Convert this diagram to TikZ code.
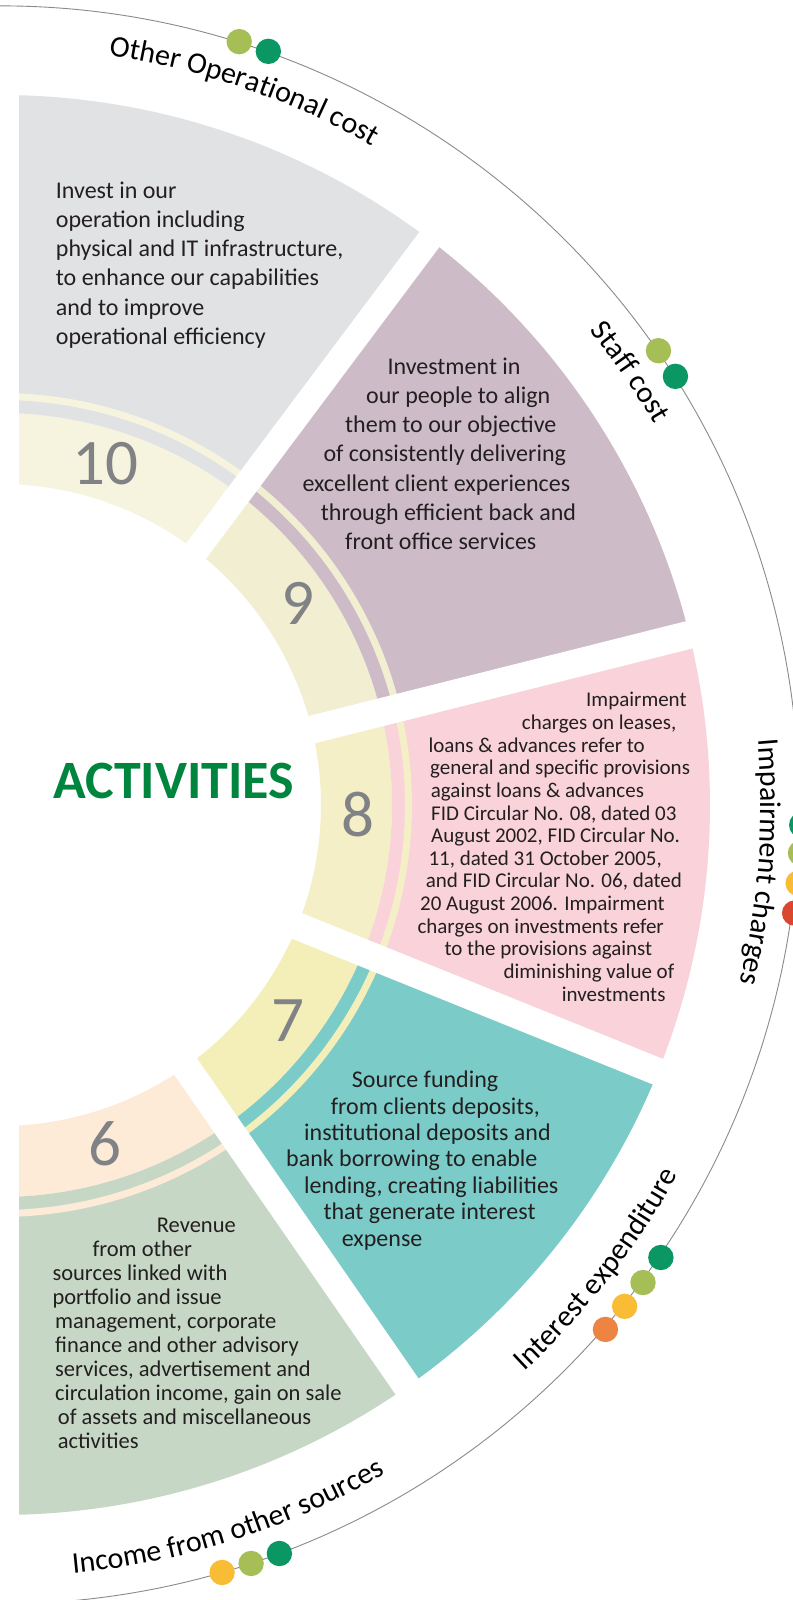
\documentclass[tikz,border=0pt]{standalone}
\usepackage{fontspec}
\setmainfont{Carlito}
\usetikzlibrary{decorations.text}
\definecolor{txt}{HTML}{231F20}
\definecolor{numgray}{HTML}{808285}
\definecolor{actgreen}{HTML}{00853F}
\definecolor{arcgray}{HTML}{8A8A8A}
\definecolor{cten}{HTML}{E1E2E4}\definecolor{bten}{HTML}{F6F4DF}
\definecolor{cnine}{HTML}{CDBCC8}\definecolor{bnine}{HTML}{F2EED2}
\definecolor{ceight}{HTML}{F9D2DA}\definecolor{beight}{HTML}{F4EFC6}
\definecolor{cseven}{HTML}{7BCCC8}\definecolor{bseven}{HTML}{F4EEB9}
\definecolor{csix}{HTML}{C6D8C5}\definecolor{bsix}{HTML}{FDEBD8}
\definecolor{dlgreen}{HTML}{A5BF56}
\definecolor{ddgreen}{HTML}{0A9763}
\definecolor{dyellow}{HTML}{F8BD35}
\definecolor{dorange}{HTML}{EE8441}
\definecolor{dred}{HTML}{D9472F}
\newcommand\annsec[5]{\fill[#1] (#2:#4) arc[start angle=#2, end angle=#3, radius=#4] -- (#3:#5) arc[start angle=#3, end angle=#2, radius=#5] -- cycle;}
\newcommand\fullsec[4]{\annsec{#2}{#3}{#4}{321}{392}\annsec{#1}{#3}{#4}{392}{710}\annsec{#2}{#3}{#4}{405}{412}}
\newcommand\lblfont{\fontsize{30}{36}\selectfont}
\tikzset{
  body/.style={anchor=base west, inner sep=0pt, text=txt, font=\fontsize{24}{29}\selectfont},
  bodys/.style={body, font=\fontsize{21}{23}\selectfont},
  bodym/.style={body, font=\fontsize{22.5}{24}\selectfont},
  num/.style={anchor=base, inner sep=0pt, text=numgray, font=\fontsize{65}{70}\selectfont},
  gapline/.style={draw=white, line cap=butt},
  ring/.style={draw=arcgray, line width=0.9pt},
  dot/.style={radius=12.7},
}
\begin{document}
\begin{tikzpicture}[x=1pt,y=1pt]
\fill[white] (0,0) rectangle (792,1600);
\useasboundingbox (0,0) rectangle (792,1600);
% sectors
\begin{scope}
\clip (19,0) rectangle (792,1600);
\begin{scope}[shift={(0,795)}]
\fullsec{cten}{bten}{52.6}{96}
\fullsec{cnine}{bnine}{13.8}{52.6}
\fullsec{ceight}{beight}{-22.1}{13.8}
\fullsec{cseven}{bseven}{-54.8}{-22.1}
\fullsec{csix}{bsix}{-96}{-54.8}
\end{scope}
\end{scope}
% gaps
\coordinate (g1a) at (189.6,1040.2); \coordinate (g1b) at (436.5,1370);
\coordinate (g2a) at (302.1,867.9); \coordinate (g2b) at (699.7,967.8);
\coordinate (g3a) at (287.2,678); \coordinate (g3b) at (669.3,523.7);
\coordinate (g4a) at (179.6,542.2); \coordinate (g4b) at (413.9,203.6);
\draw[gapline, line width=25pt] (g1a) -- (g1b);
\draw[gapline, line width=28pt] (g2a) -- (g2b);
\draw[gapline, line width=27.5pt] (g3a) -- (g3b);
\draw[gapline, line width=28pt] (g4a) -- (g4b);
% numbers
\node[num] (n10) at (105.3,1115) {10};
\node[num] (n9) at (297.5,975) {9};
\node[num] (n8) at (357.5,763.3) {8};
\node[num] (n7) at (287.5,558.3) {7};
\node[num] (n6) at (105,434) {6};
% title
\node[anchor=base west, inner sep=0pt, text=actgreen, font=\fontsize{54}{60}\selectfont\bfseries] (title) at (53,801) {ACTIVITIES};
% sector 10 text
\node[body] (a1) at (55.7,1401.7) {Invest in our};
\node[body] (a2) at (55.7,1372.5) {operation including};
\node[body] (a3) at (55.7,1343.3) {physical and IT infrastructure,};
\node[body] (a4) at (55.7,1314.1) {to enhance our capabilities};
\node[body] (a5) at (55.7,1284.9) {and to improve};
\node[body] (a6) at (55.7,1255.7) {operational efficiency};
% sector 9 text
\node[body] (b1) at (387.3,1225.7) {Investment in};
\node[body] (b2) at (366,1196.5) {our people to align};
\node[body] (b3) at (345,1167.3) {them to our objective};
\node[body] (b4) at (323.3,1138.1) {of consistently delivering};
\node[body] (b5) at (302.3,1108.9) {excellent client experiences};
\node[body] (b6) at (320.7,1079.7) {through efficient back and};
\node[body] (b7) at (345,1050.5) {front office services};
% sector 8 text
\node[bodys] (c1) at (586,893.2) {Impairment};
\node[bodys] (c2) at (521.7,870.55) {charges on leases,};
\node[bodys] (c3) at (428.3,847.9) {loans \& advances refer to};
\node[bodys] (c4) at (430,825.25) {general and specific provisions};
\node[bodys] (c5) at (430.7,802.6) {against loans \& advances};
\node[bodys] (c6) at (431,779.95) {FID Circular No. 08, dated 03};
\node[bodys] (c7) at (431,757.3) {August 2002, FID Circular No.};
\node[bodys] (c8) at (428.3,734.65) {11, dated 31 October 2005,};
\node[bodys] (c9) at (425.7,712) {and FID Circular No. 06, dated};
\node[bodys] (c10) at (420,689.35) {20 August 2006. Impairment};
\node[bodys] (c11) at (417.3,666.7) {charges on investments refer};
\node[bodys] (c12) at (444.3,644.05) {to the provisions against};
\node[bodys] (c13) at (503.3,621.4) {diminishing value of};
\node[bodys] (c14) at (561.7,598.75) {investments};
% sector 7 text
\node[body] (d1) at (351.7,512.3) {Source funding};
\node[body] (d2) at (330.7,485.9) {from clients deposits,};
\node[body] (d3) at (304,459.5) {institutional deposits and};
\node[body] (d4) at (286,433.1) {bank borrowing to enable};
\node[body] (d5) at (304,406.7) {lending, creating liabilities};
\node[body] (d6) at (323.3,380.3) {that generate interest};
\node[body] (d7) at (341.7,353.9) {expense};
% sector 6 text
\node[bodym] (e1) at (156.7,367.1) {Revenue};
\node[bodym] (e2) at (92.3,343.1) {from other};
\node[bodym] (e3) at (52.3,319.1) {sources linked with};
\node[bodym] (e4) at (52.3,295.1) {portfolio and issue};
\node[bodym] (e5) at (55,271.1) {management, corporate};
\node[bodym] (e6) at (55,247.1) {finance and other advisory};
\node[bodym] (e7) at (55,223.1) {services, advertisement and};
\node[bodym] (e8) at (55,199.1) {circulation income, gain on sale};
\node[bodym] (e9) at (57.7,175.1) {of assets and miscellaneous};
\node[bodym] (e10) at (57.7,151.1) {activities};
% outer ring, dots, labels
\begin{scope}[shift={(0,795)}]
\draw[ring] (97:799) arc[start angle=97, end angle=-97, radius=799];
\fill[dlgreen] (72.6:800) circle[dot];
\fill[ddgreen] (70.4:800) circle[dot];
\fill[dlgreen] (34.6:800) circle[dot];
\fill[ddgreen] (32.4:800) circle[dot];
\fill[ddgreen] (-1.43:802) circle[dot];
\fill[dlgreen] (-3.44:802) circle[dot];
\fill[dyellow] (-5.6:802) circle[dot];
\fill[dred] (-7.75:802) circle[dot];
\fill[ddgreen] (-34.4:801) circle[dot];
\fill[dlgreen] (-36.6:801) circle[dot];
\fill[dyellow] (-38.75:801) circle[dot];
\fill[dorange] (-40.9:801) circle[dot];
\fill[dyellow] (-73.86:799) circle[dot];
\fill[dlgreen] (-71.68:799) circle[dot];
\fill[ddgreen] (-69.53:799) circle[dot];
\path[decorate, decoration={text along path, text align=center, text={|\lblfont|Other Operational cost}}]
  (101.15:757) arc[start angle=101.15, end angle=41.15, radius=757];
\path[decorate, decoration={text along path, text align=center, text={|\lblfont|Staff cost}}]
  (59.5:757) arc[start angle=59.5, end angle=9.5, radius=757];
\path[decorate, decoration={text along path, text align=center, text={|\lblfont|Impairment charges}}]
  (25.7:761) arc[start angle=25.7, end angle=-34.3, radius=761];
\path[decorate, decoration={text along path, text align=center, text={|\lblfont|Interest expenditure}}]
  (-67.9:772) arc[start angle=-67.9, end angle=-7.9, radius=772];
\path[decorate, decoration={text along path, text align=center, text={|\lblfont|Income from other sources}}]
  (-102.3:772) arc[start angle=-102.3, end angle=-42.3, radius=772];
\end{scope}
\end{tikzpicture}
\end{document}
